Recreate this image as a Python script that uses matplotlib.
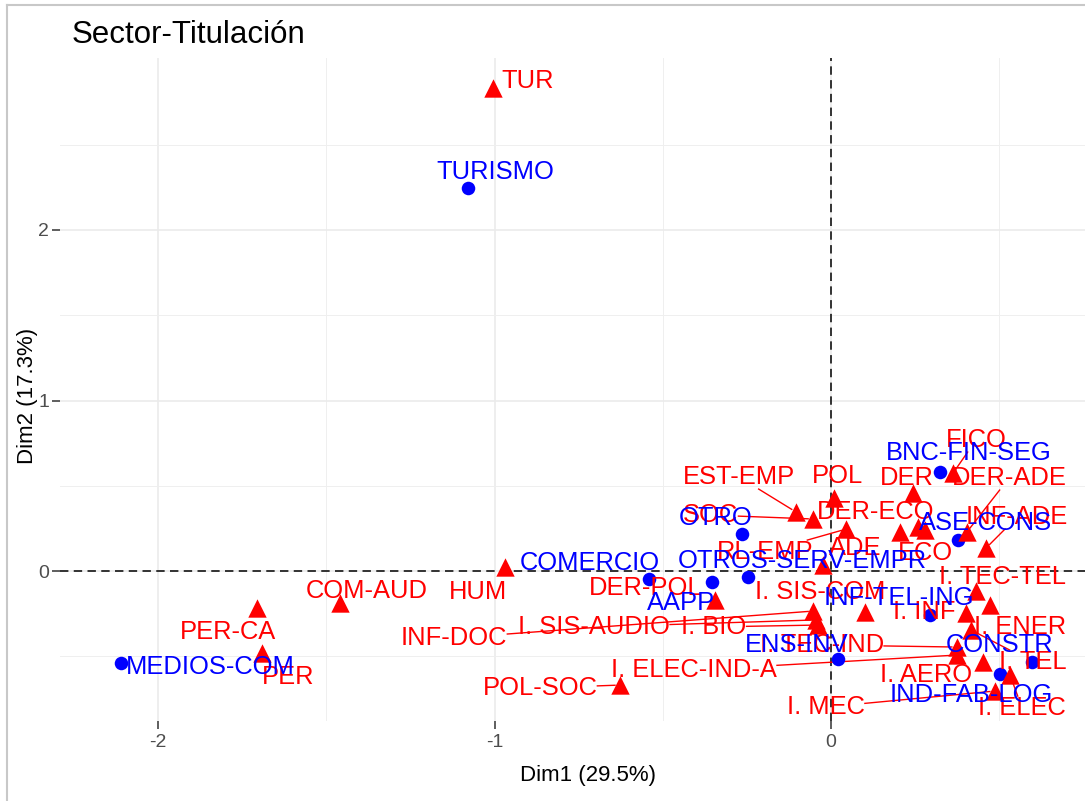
import numpy as np
import matplotlib.pyplot as plt

plt.rcParams['font.family'] = ['Liberation Sans', 'DejaVu Sans']
plt.rcParams['axes.unicode_minus'] = False

# filas: sectores (azul)
sector = ['TURISMO', 'MEDIOS-COM', 'COMERCIO', 'OTRO', 'AAPP', 'OTROS-SERV-EMPR',
          'BNC-FIN-SEG', 'ASE-CONS', 'INF-TEL-ING', 'ENS-INV', 'CONSTR', 'IND-FAB-LOG']
sector_x = [-1.079, -2.110, -0.541, -0.264, -0.354, -0.247, 0.324, 0.377, 0.294, 0.021, 0.597, 0.502]
sector_y = [2.246, -0.540, -0.047, 0.217, -0.065, -0.035, 0.580, 0.182, -0.258, -0.516, -0.534, -0.604]

# columnas: titulaciones (rojo)
titul = ['TUR', 'PER-CA', 'PER', 'COM-AUD', 'HUM', 'INF-DOC', 'I. SIS-AUDIO', 'I. BIO',
         'POL-SOC', 'I. ELEC-IND-A', 'DER-POL', 'EST-EMP', 'SOC', 'POL', 'DER', 'FICO',
         'DER-ADE', 'INF-ADE', 'DER-ECO', 'RL-EMP', 'ADE', 'ECO', '', 'I. TEC-TEL',
         'I. SIS-COM', 'I. INF', 'I. ENER', 'I. TEC-IND', 'I. AERO', 'I. TEL', 'I. MEC', 'I. ELEC']
titul_x = [-1.004, -1.706, -1.691, -1.459, -0.969, -0.053, -0.045, -0.039,
           -0.627, 0.374, -0.345, -0.104, -0.053, 0.009, 0.244, 0.363,
           0.404, 0.461, 0.205, 0.045, -0.024, 0.259, 0.279, 0.431,
           0.101, 0.401, 0.473, 0.374, 0.452, 0.416, 0.487, 0.532]
titul_y = [2.833, -0.217, -0.481, -0.188, 0.023, -0.235, -0.287, -0.317,
           -0.669, -0.493, -0.170, 0.346, 0.305, 0.428, 0.457, 0.575,
           0.229, 0.135, 0.229, 0.246, 0.035, 0.258, 0.240, -0.117,
           -0.240, -0.246, -0.199, -0.446, -0.534, -0.346, -0.704, -0.610]

# posiciones de las etiquetas (como las dejó ggrepel)
sector_lx = [-0.999, -1.845, -0.716, -0.342, -0.446, -0.086, 0.410, 0.458, 0.202, -0.101, 0.502, 0.416]
sector_ly = [2.340, -0.563, 0.047, 0.311, -0.188, 0.059, 0.692, 0.282, -0.158, -0.434, -0.434, -0.727]
titul_lx = [-0.903, -1.792, -1.614, -1.379, -1.049, -1.120, -0.704, -0.348,
            -0.865, -0.407, -0.550, -0.273, -0.357, 0.018, 0.226, 0.431,
            0.529, 0.553, 0.134, -0.196, 0.071, 0.282, 0.279, 0.511,
            -0.033, 0.276, 0.562, -0.027, 0.282, 0.600, -0.015, 0.568]
titul_ly = [2.874, -0.358, -0.622, -0.117, -0.123, -0.393, -0.328, -0.328,
            -0.686, -0.581, -0.100, 0.551, 0.328, 0.557, 0.545, 0.768,
            0.545, 0.317, 0.346, 0.111, 0.135, 0.106, 0.240, -0.035,
            -0.123, -0.240, -0.328, -0.434, -0.610, -0.534, -0.798, -0.804]

W, H = 1085, 801
fig = plt.figure(figsize=(W / 100, H / 100), dpi=100)
left, right, top, bottom = 60, 1116, 58, 721
ax = fig.add_axes([left / W, 1 - bottom / H, (right - left) / W, (bottom - top) / H])
ax.set_xlim((left - 831) / 336.5, (right - 831) / 336.5)
ax.set_ylim((571 - bottom) / 170.5, (571 - top) / 170.5)

ax.set_xticks([-2, -1, 0])
ax.set_yticks([0, 1, 2])
ax.set_xticks([-1.5, -0.5, 0.5], minor=True)
ax.set_yticks([-0.5, 0.5, 1.5, 2.5], minor=True)
ax.grid(which='major', color='#EBEBEB', lw=1.2, zorder=0)
ax.grid(which='minor', color='#EFEFEF', lw=0.7, zorder=0)
ax.set_axisbelow(True)
for s in ax.spines.values():
    s.set_visible(False)
ax.tick_params(which='major', length=5.5, width=1.1, color='#333333',
               labelcolor='#4D4D4D', labelsize=14, pad=4)
ax.tick_params(axis='y', which='major', pad=2.5)
ax.tick_params(which='minor', length=0)

ax.axhline(0, color='black', lw=1.1, ls=(0, (5.5, 3.5)), zorder=1)
ax.axvline(0, color='black', lw=1.1, ls=(0, (5.5, 3.5)), zorder=1)

ax.scatter(sector_x, sector_y, s=95, marker='o', color='blue', zorder=3, lw=0)
ax.scatter(titul_x, titul_y, s=175, marker='^', color='red', zorder=3, lw=0)

textos = []
for n, lx, ly, px, py in zip(titul, titul_lx, titul_ly, titul_x, titul_y):
    if n:
        t = ax.text(lx, ly, n, color='red', fontsize=18.4, ha='center', va='center', zorder=4)
        textos.append((t, px, py, 'red'))
for n, lx, ly, px, py in zip(sector, sector_lx, sector_ly, sector_x, sector_y):
    t = ax.text(lx, ly, n, color='blue', fontsize=18.4, ha='center', va='center', zorder=5)
    textos.append((t, px, py, 'blue'))

fig.text(588 / W, 1 - 775 / H, 'Dim1 (29.5%)', fontsize=16, ha='center', va='center')
fig.text(28 / W, 1 - 396 / H, 'Dim2 (17.3%)', fontsize=16, ha='center', va='center',
         rotation=90)
fig.text(72 / W, 1 - 43 / H, 'Sector-Titulación', fontsize=22.5, ha='left', va='baseline')

# segmentos de ggrepel: del punto hacia el centro de la etiqueta, cortado en su caja
fig.canvas.draw()
rend = fig.canvas.get_renderer()
inv = ax.transData.inverted()
for t, px, py, col in textos:
    bb = t.get_window_extent(rend)
    p = ax.transData.transform((px, py))
    c = np.array([(bb.x0 + bb.x1) / 2, (bb.y0 + bb.y1) / 2])
    v = c - p
    sx = 0.0
    if p[0] < bb.x0:
        sx = (bb.x0 - p[0]) / v[0]
    elif p[0] > bb.x1:
        sx = (bb.x1 - p[0]) / v[0]
    sy = 0.0
    if p[1] < bb.y0:
        sy = (bb.y0 - p[1]) / v[1]
    elif p[1] > bb.y1:
        sy = (bb.y1 - p[1]) / v[1]
    q = p + max(sx, sy) * v
    d = np.hypot(*(q - p))
    if d > 22:
        a = p + (q - p) / d * 5
        seg = inv.transform(np.array([a, q]))
        ax.plot(seg[:, 0], seg[:, 1], color=col, lw=1.0, zorder=2)

# marco gris de la captura
fig.add_artist(plt.Line2D([7 / W, 7 / W], [0, 1 - 5 / H], color='#C8C8C8', lw=1.5))
fig.add_artist(plt.Line2D([7 / W, 1], [1 - 5 / H, 1 - 5 / H], color='#C8C8C8', lw=1.5))

fig.savefig('out.png', dpi=100)
